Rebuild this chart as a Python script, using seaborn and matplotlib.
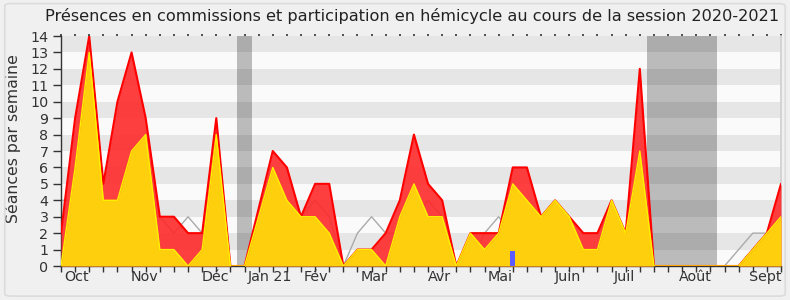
import matplotlib
matplotlib.use("Agg")
import matplotlib.pyplot as plt
from matplotlib.patches import FancyBboxPatch
import seaborn as sns
import numpy as np
import pandas as pd

# ---- data (weekly, session 2020-2021) ----
weeks = list(range(52))
commission = [2, 9, 14, 5, 10, 13, 9, 3, 3, 2, 2, 9, 0, 0, 3.5, 7, 6, 3, 5, 5,
              0, 1, 1, 2, 4, 8, 5, 4, 0, 2, 2, 2, 6, 6, 3, 4, 3, 2, 2, 4,
              2, 12, 0, 0, 0, 0, 0, 0, 0, 1, 2, 5]
hemicycle = [0, 6, 13, 4, 4, 7, 8, 1, 1, 0, 1, 8, 0, 0, 3, 6, 4, 3, 3, 2,
             0, 1, 1, 0, 3, 5, 3, 3, 0, 2, 1, 2, 5, 4, 3, 4, 3, 1, 1, 4,
             2, 7, 0, 0, 0, 0, 0, 0, 0, 1, 2, 3]
mediane = [4, 4, 3, 4, 3, 3, 3, 3, 2, 3, 2, 2, 0, 0, 2, 2, 2, 3, 4, 3,
           0, 2, 3, 2, 2, 3, 4, 3, 0, 0, 2, 3, 2, 2, 2, 3, 2, 1, 1, 2,
           1, 3, 0, 0, 0, 0, 0, 0, 1, 2, 2, 2]
questions_week = [32]
questions_val = [0.9]
vacances = [(12.5, 13.5), (41.5, 46.5)]
month_labels = ["Oct", "Nov", "Déc", "Jan 21", "Fév", "Mar", "Avr", "Mai",
                "Juin", "Juil", "Août", "Sept"]
month_pos = [1.13, 5.91, 10.96, 14.84, 18.04, 22.15, 26.83, 31.12,
             35.91, 39.88, 44.91, 49.87]
title = "Présences en commissions et participation en hémicycle au cours de la session 2020-2021"
ylabel = "Séances par semaine"

df = pd.DataFrame({"semaine": weeks, "commission": commission,
                   "hemicycle": hemicycle, "mediane": mediane})

sns.set_theme(style="white")
plt.rcParams["font.family"] = ["DejaVu Sans"]

fig = plt.figure(figsize=(7.9, 3.0), dpi=100)
fig.patch.set_facecolor("#f0f0f0")
fig.patches.append(FancyBboxPatch((0.006, 0.013), 0.988, 0.975,
                                  boxstyle="round,pad=0,rounding_size=0.008",
                                  transform=fig.transFigure, facecolor="none",
                                  edgecolor="#dcdcdc", linewidth=1.2))
ax = fig.add_axes([0.0772, 0.1133, 0.9114, 0.7667])
ax.set_facecolor("#fafafa")

# stripes
for k in range(1, 14, 2):
    ax.axhspan(k, k + 1, color="#e6e6e6", lw=0, zorder=0)
# holidays
for a, b in vacances:
    ax.axvspan(a, b, color="black", alpha=0.25, lw=0, zorder=1)

sns.lineplot(data=df, x="semaine", y="mediane", ax=ax, color="#aaaaaa",
             lw=1, zorder=2)
ax.fill_between(df["semaine"], df["commission"], color="#ff2a2a", alpha=0.9,
                lw=0, zorder=3)
sns.lineplot(data=df, x="semaine", y="commission", ax=ax, color="#ff0000",
             lw=1.5, zorder=4)
ax.fill_between(df["semaine"], df["hemicycle"], color="#ffd60a", alpha=0.96,
                lw=0, zorder=5)
sns.lineplot(data=df, x="semaine", y="hemicycle", ax=ax, color="#fff000",
             lw=1, zorder=6)
ax.bar(questions_week, questions_val, width=0.32, color="#5b5bff", lw=0,
       zorder=7)

ax.set_xlim(0, 51)
ax.set_ylim(0, 14)
ax.set_xlabel("")
ax.set_ylabel(ylabel, fontsize=11.3, color="#333333")
ax.yaxis.set_label_coords(-0.056, 0.555)
fig.text(412 / 790, 1 - 16 / 300, title, fontsize=11.6, color="#222222",
         ha="center", va="center")

ax.set_yticks(range(0, 15))
ax.tick_params(axis="y", length=6, width=1, color="#333333", labelsize=10.3,
               labelcolor="#333333", pad=3, left=True)
ax.set_xticks(weeks)
ax.set_xticklabels([])
ax.set_xticks(month_pos, minor=True)
ax.set_xticklabels(month_labels, minor=True)
ax.tick_params(axis="x", which="major", length=4, width=1, color="#333333",
               bottom=True, direction="out")
ax.tick_params(axis="x", which="minor", length=0, labelsize=10.3,
               labelcolor="#333333", pad=3, bottom=True)
ax2 = ax.secondary_xaxis("top")
ax2.set_xticks(weeks)
ax2.set_xticklabels([])
ax2.tick_params(axis="x", length=1.5, width=1.2, color="#333333",
                direction="out")
ax2.spines["top"].set_visible(False)

ax.spines["top"].set_visible(False)
ax.spines["right"].set_color("#d0d0d0")
ax.spines["left"].set_color("#333333")
ax.spines["bottom"].set_color("#333333")
ax.spines["left"].set_linewidth(1)
ax.spines["bottom"].set_linewidth(1)

fig.savefig("out.png", dpi=100, facecolor=fig.get_facecolor())
